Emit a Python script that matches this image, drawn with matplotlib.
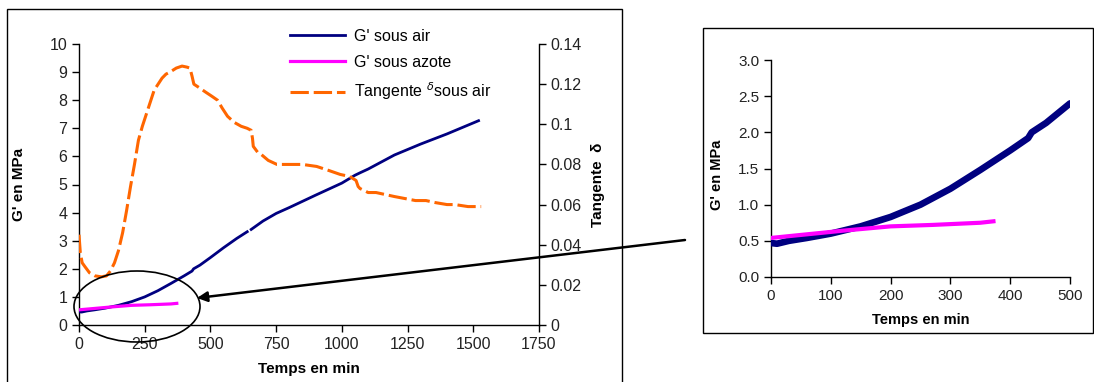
import numpy as np
import matplotlib
matplotlib.use("Agg")
import matplotlib.pyplot as plt
from matplotlib.patches import Ellipse, Rectangle
from matplotlib.ticker import FormatStrFormatter, FuncFormatter

plt.rcParams['font.family'] = ['Liberation Sans', 'DejaVu Sans']

# --- data -------------------------------------------------------------
# G' under air (MPa) vs time (min); NaN marks the short gap in the record
time_air = [0, 10, 30, 60, 100, 150, 200, 250, 300, 350, 400, 430, 436, 460,
            500, 550, 600, 640, np.nan, 655, 700, 750, 800, 900, 1000, 1050,
            1070, 1100, 1200, 1300, 1400, 1520]
g_air = [0.47, 0.46, 0.50, 0.54, 0.60, 0.70, 0.83, 1.00, 1.22, 1.48, 1.75,
         1.92, 2.00, 2.13, 2.40, 2.75, 3.08, 3.32, np.nan, 3.40, 3.70, 3.97,
         4.18, 4.62, 5.05, 5.33, 5.42, 5.55, 6.05, 6.44, 6.80, 7.27]

# G' under nitrogen (MPa)
time_n2 = [0, 60, 120, 200, 270, 350, 372]
g_n2 = [0.54, 0.59, 0.64, 0.70, 0.72, 0.75, 0.77]

# tan delta under air
time_tan = [0, 5, 12, 23, 40, 60, 85, 105, 120, 135, 150, 166, 181, 196, 211,
            226, 241, 256, 271, 286, 301, 316, 331, 346, 370, 392, 410, 422,
            430, 437, 460, 482, 505, 527, 545, 565, 590, 617, 640, 655, 660,
            663, 680, 693, 720, 753, 780, 813, 850, 904, 950, 994, 1030, 1054,
            1062, 1069, 1100, 1130, 1200, 1280, 1320, 1355, 1400, 1430, 1480,
            1530]
tan_delta = [0.045, 0.036, 0.031, 0.029, 0.026, 0.0245, 0.024, 0.0245, 0.027,
             0.031, 0.037, 0.046, 0.057, 0.069, 0.080, 0.092, 0.099, 0.105,
             0.111, 0.117, 0.120, 0.123, 0.125, 0.126, 0.128, 0.129, 0.1285,
             0.128, 0.124, 0.120, 0.118, 0.116, 0.114, 0.112, 0.108, 0.104,
             0.101, 0.099, 0.098, 0.097, 0.093, 0.089, 0.086, 0.085, 0.082,
             0.080, 0.080, 0.080, 0.080, 0.079, 0.077, 0.075, 0.074, 0.072,
             0.069, 0.068, 0.066, 0.066, 0.064, 0.062, 0.062, 0.061, 0.060,
             0.060, 0.059, 0.059]

x_ticks_main = [0, 250, 500, 750, 1000, 1250, 1500, 1750]
y_ticks_main = list(range(0, 11))
y_ticks_tan = [0, 0.02, 0.04, 0.06, 0.08, 0.10, 0.12, 0.14]
x_ticks_zoom = [0, 100, 200, 300, 400, 500]
y_ticks_zoom = [0.0, 0.5, 1.0, 1.5, 2.0, 2.5, 3.0]

NAVY = '#000080'
MAGENTA = '#FF00FF'
ORANGE = '#FF6600'
TICK_COL = '#222222'

W, H = 1094, 382
fig = plt.figure(figsize=(W / 100, H / 100), dpi=100)


def fx(px):
    return px / W


def fy(py):
    return (H - py) / H


def style_axis(ax, size):
    ax.tick_params(direction='out', length=5, width=1, colors='black',
                   labelsize=size, labelcolor=TICK_COL)
    for s in ax.spines.values():
        s.set_linewidth(1)


# --- main chart -------------------------------------------------------
ax = fig.add_axes([fx(79), fy(325), fx(539) - fx(79), fy(44) - fy(325)])
ax2 = ax.twinx()

l_air, = ax.plot(time_air, g_air, color=NAVY, lw=2.0, zorder=3)
l_n2, = ax.plot(time_n2, g_n2, color=MAGENTA, lw=2.3, zorder=3)
l_tan, = ax2.plot(time_tan, tan_delta, color=ORANGE, lw=2.2,
                  linestyle=(0, (6, 1.6)))

ax.set_xlim(0, 1750)
ax.set_ylim(0, 10)
ax2.set_ylim(0, 0.14)
ax.set_xticks(x_ticks_main)
ax.set_yticks(y_ticks_main)
ax2.set_yticks(y_ticks_tan)
ax2.yaxis.set_major_formatter(FuncFormatter(lambda v, p: f"{v:g}"))

for a in (ax, ax2):
    a.spines['top'].set_visible(False)
ax.spines['right'].set_visible(False)
ax2.spines['left'].set_visible(False)
ax2.spines['bottom'].set_visible(False)
style_axis(ax, 11.5)
style_axis(ax2, 11.5)

ax.set_xlabel('Temps en min', fontsize=11, fontweight='bold')
ax.xaxis.set_label_coords(0.5, -0.13)
ax.set_ylabel("G' en MPa", fontsize=11, fontweight='bold')
ax.yaxis.set_label_coords(-0.115, 0.5)
ax2.set_ylabel('Tangente  δ', fontsize=11, fontweight='bold')
ax2.yaxis.set_label_coords(1.113, 0.5)

fig.legend([l_air, l_n2, l_tan],
           ["G' sous air", "G' sous azote", "Tangente $^{\\delta}$sous air"],
           loc='upper left', bbox_to_anchor=(fx(290), fy(29)),
           frameon=False, fontsize=11.5, handlelength=3.45,
           handletextpad=0.55, labelspacing=0.68, borderpad=0,
           borderaxespad=0)

# --- zoom on the first 500 min ---------------------------------------
axz = fig.add_axes([fx(771), fy(277), fx(1070) - fx(771), fy(60) - fy(277)])
t_air = np.array(time_air, dtype=float)
g_air_arr = np.array(g_air, dtype=float)
keep = t_air <= 500
axz.plot(t_air[keep], g_air_arr[keep], color=NAVY, lw=4.8,
         solid_capstyle='round', zorder=3)
axz.plot(time_n2, g_n2, color=MAGENTA, lw=3.0, zorder=4)
axz.set_xlim(0, 500)
axz.set_ylim(0, 3.0)
axz.set_xticks(x_ticks_zoom)
axz.set_yticks(y_ticks_zoom)
axz.yaxis.set_major_formatter(FormatStrFormatter('%.1f'))
axz.spines['top'].set_visible(False)
axz.spines['right'].set_visible(False)
style_axis(axz, 11)
axz.set_xlabel('Temps en min', fontsize=10.5, fontweight='bold')
axz.xaxis.set_label_coords(0.5, -0.165)
axz.set_ylabel("G' en MPa", fontsize=10.5, fontweight='bold')
axz.yaxis.set_label_coords(-0.158, 0.47)

# --- frames, circle and arrow ----------------------------------------
fig.add_artist(Rectangle((fx(7), fy(390)), fx(622) - fx(7), fy(9) - fy(390),
                         transform=fig.transFigure, fill=False,
                         edgecolor='black', lw=1))
fig.add_artist(Rectangle((fx(703), fy(333)), fx(1092.5) - fx(703),
                         fy(28) - fy(333), transform=fig.transFigure,
                         fill=False, edgecolor='black', lw=1))
fig.add_artist(Ellipse((fx(137), fy(306.5)), fx(126), 71 / H,
                       transform=fig.transFigure, fill=False,
                       edgecolor='black', lw=1.2, zorder=5))
fig.add_artist(plt.Annotation('', xy=(fx(197), fy(298)),
                              xytext=(fx(685), fy(240)),
                              xycoords='figure fraction',
                              textcoords='figure fraction',
                              arrowprops=dict(arrowstyle='-|>,head_length=0.6,head_width=0.3',
                                              color='black', lw=1.8,
                                              shrinkA=0, shrinkB=0)))

fig.savefig('out.png', dpi=100)
